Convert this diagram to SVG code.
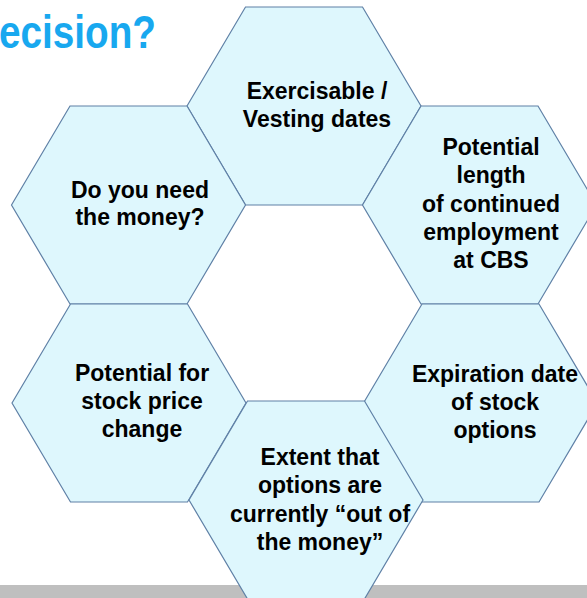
<svg xmlns="http://www.w3.org/2000/svg" xmlns:xlink="http://www.w3.org/1999/xlink" width="587" height="598" viewBox="0 0 587 598">
  <style>
    .hex { fill: #def7fd; stroke: #5f80a6; stroke-width: 1.2; }
    .lbl { font-family: "Liberation Sans", Arial, sans-serif; font-weight: bold; font-size: 23px; fill: #000000; text-anchor: middle; }
    .title { font-family: "Liberation Sans", Arial, sans-serif; font-weight: bold; font-size: 46px; fill: #18a8ef; }
  </style>
  <defs>
    <!-- flat-topped hexagon centred on the origin -->
    <polygon id="hexShape" points="-117,0 -58.5,-99 58.5,-99 117,0 58.5,99 -58.5,99"/>
  </defs>

  <rect x="0" y="0" width="587" height="598" fill="#ffffff"/>

  <!-- footer band -->
  <rect x="0" y="585" width="587" height="13" fill="#bfbfbf"/>

  <!-- heading (runs off the left edge) -->
  <text class="title" x="-1" y="48" textLength="157" lengthAdjust="spacingAndGlyphs">ecision?</text>

  <g id="node-exercisable">
    <use xlink:href="#hexShape" href="#hexShape" class="hex" x="304" y="106"/>
    <text class="lbl" x="317" y="99">Exercisable /</text>
    <text class="lbl" x="317" y="127">Vesting dates</text>
  </g>

  <g id="node-need-money">
    <use xlink:href="#hexShape" href="#hexShape" class="hex" x="128.5" y="205"/>
    <text class="lbl" x="140" y="198">Do you need</text>
    <text class="lbl" x="140" y="225">the money?</text>
  </g>

  <g id="node-employment">
    <use xlink:href="#hexShape" href="#hexShape" class="hex" x="479.5" y="205"/>
    <text class="lbl" x="491" y="155">Potential</text>
    <text class="lbl" x="491" y="183.3">length</text>
    <text class="lbl" x="491" y="211.6">of continued</text>
    <text class="lbl" x="491" y="240">employment</text>
    <text class="lbl" x="491" y="268.3">at CBS</text>
  </g>

  <g id="node-price-change">
    <use xlink:href="#hexShape" href="#hexShape" class="hex" x="129" y="403"/>
    <text class="lbl" x="142" y="381">Potential for</text>
    <text class="lbl" x="142" y="409">stock price</text>
    <text class="lbl" x="142" y="437">change</text>
  </g>

  <g id="node-expiration">
    <use xlink:href="#hexShape" href="#hexShape" class="hex" x="480.5" y="403"/>
    <text class="lbl" x="495" y="382">Expiration date</text>
    <text class="lbl" x="495" y="410">of stock</text>
    <text class="lbl" x="495" y="438">options</text>
  </g>

  <g id="node-out-of-money">
    <use xlink:href="#hexShape" href="#hexShape" class="hex" x="306" y="500"/>
    <text class="lbl" x="320" y="465">Extent that</text>
    <text class="lbl" x="320" y="493.3">options are</text>
    <text class="lbl" x="320" y="521.7">currently “out of</text>
    <text class="lbl" x="320" y="549.5">the money”</text>
  </g>
</svg>
